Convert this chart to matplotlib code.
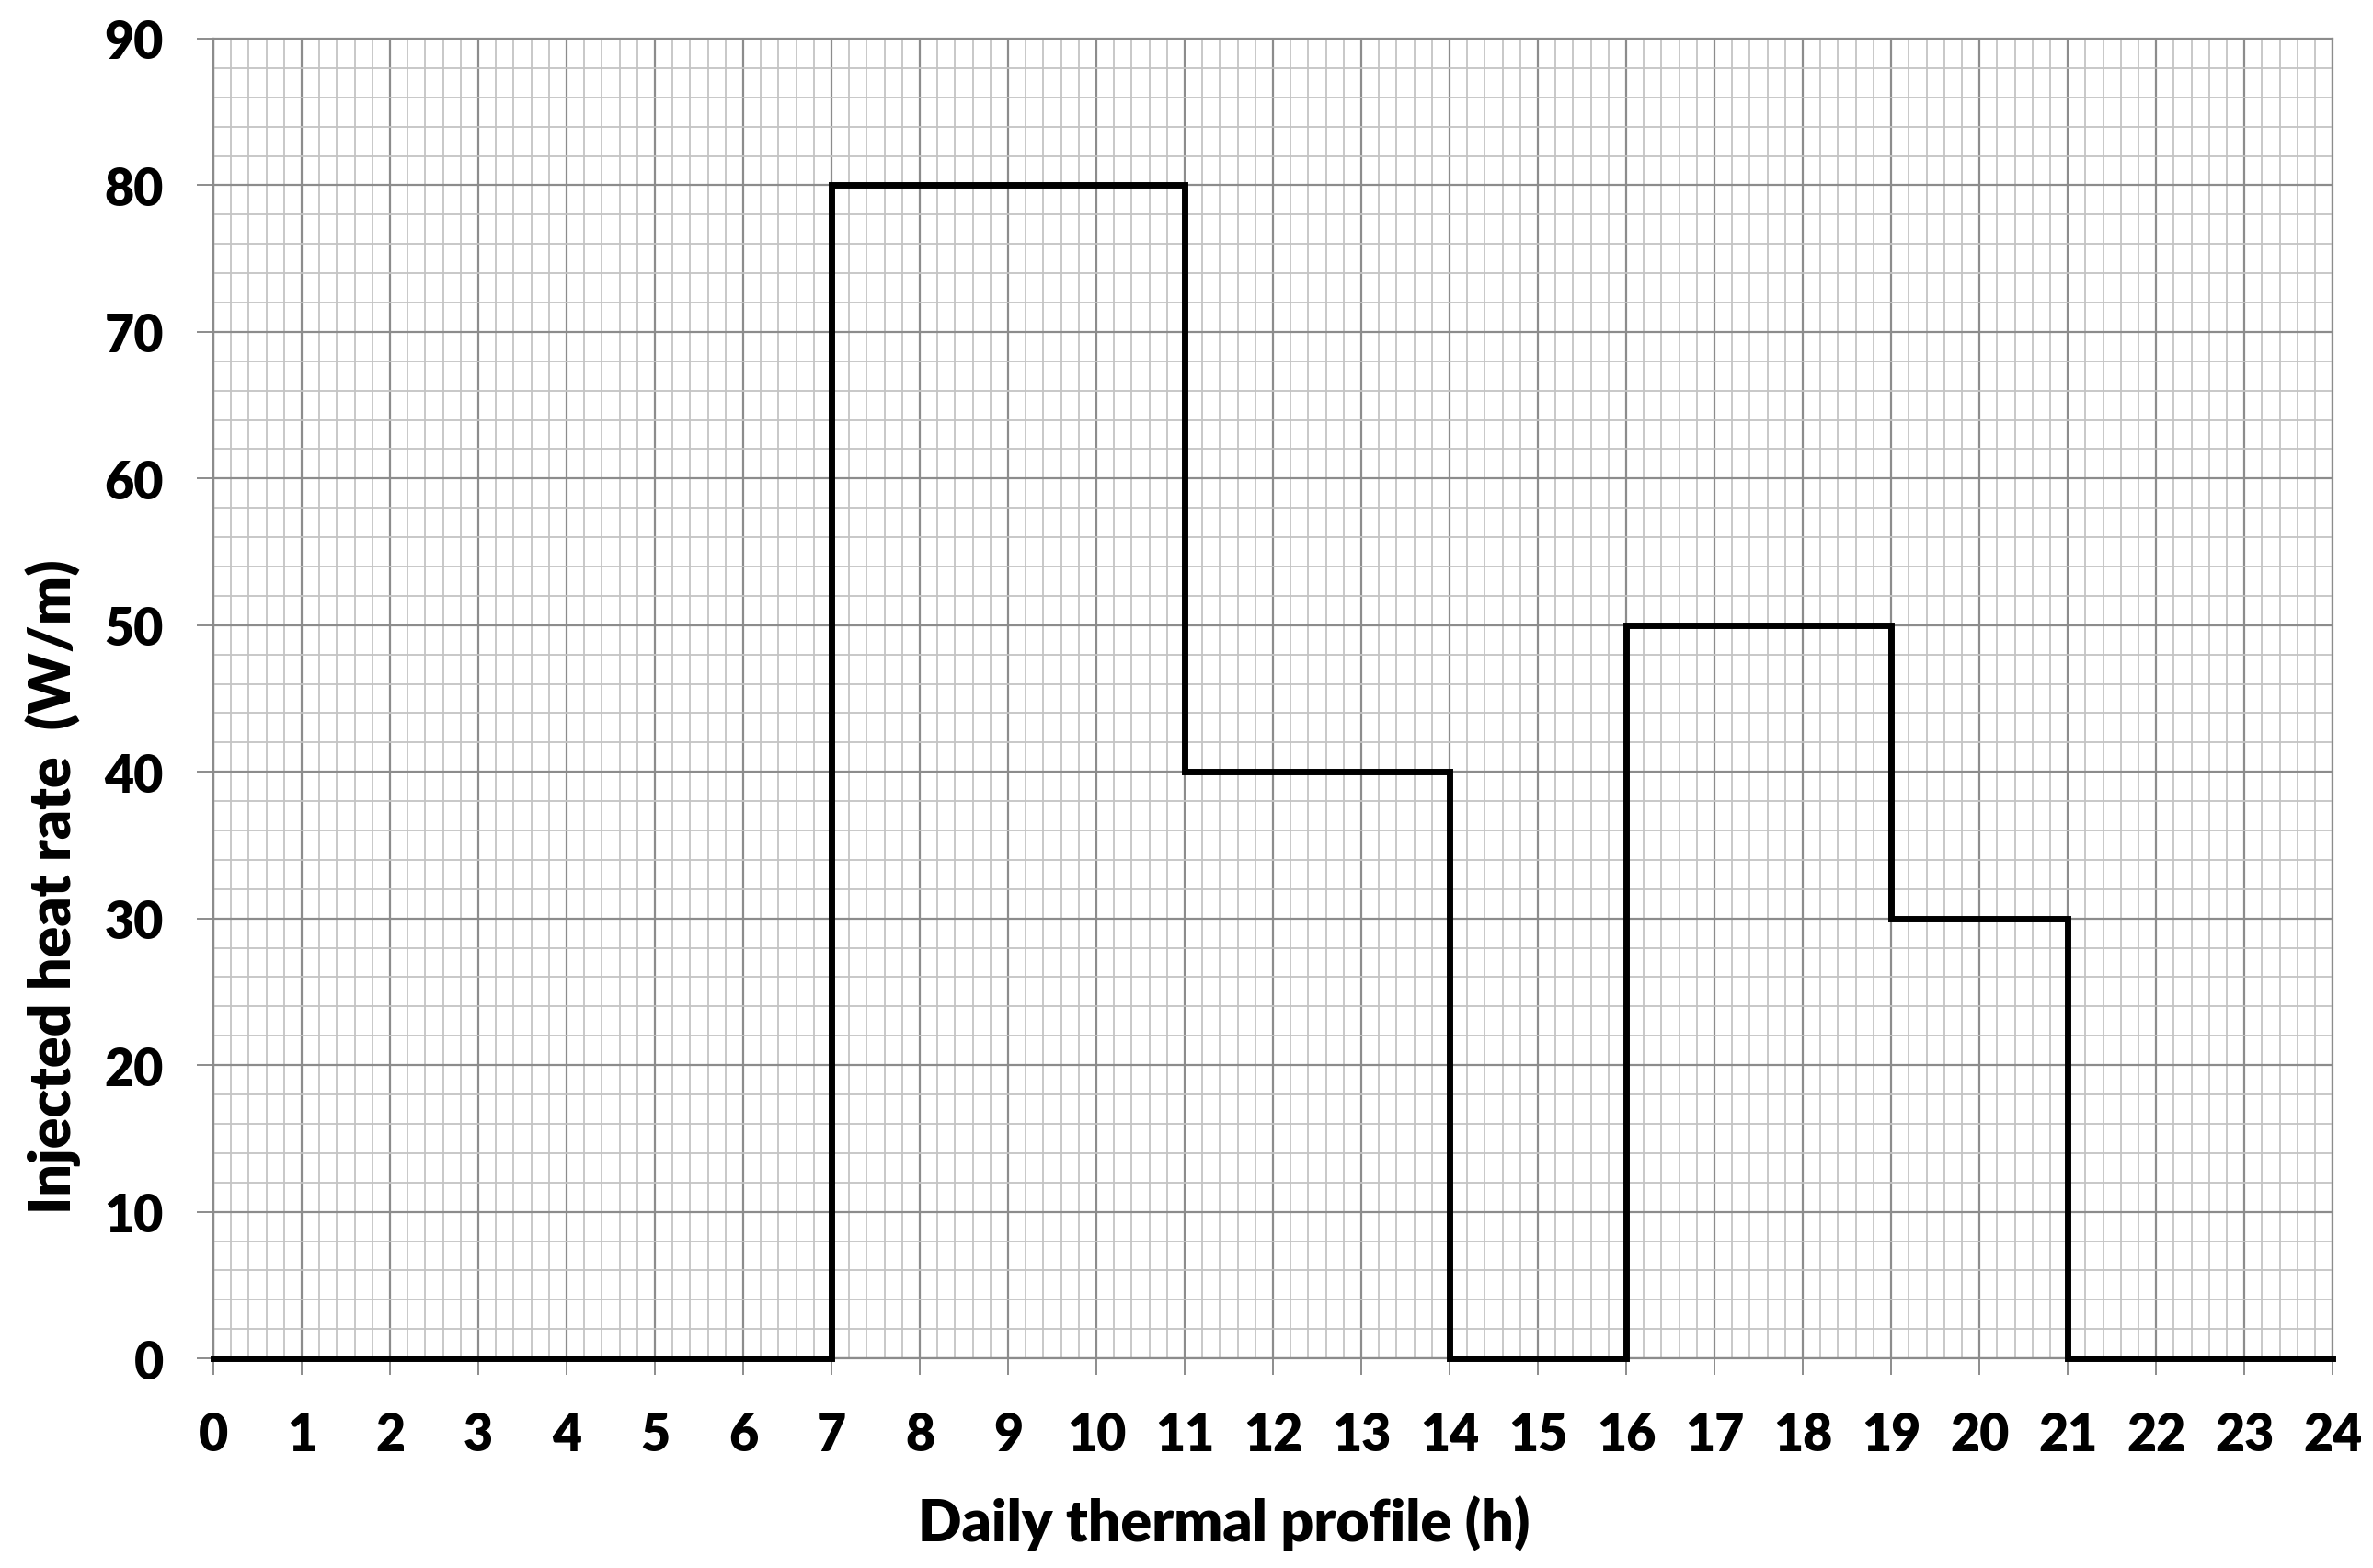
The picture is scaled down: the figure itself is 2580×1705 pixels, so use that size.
import matplotlib
matplotlib.use("Agg")
import matplotlib.pyplot as plt
from matplotlib.ticker import MultipleLocator

# Data
hour_edges = [0, 7, 11, 14, 16, 19, 21, 24]
heat_rate = [0, 80, 40, 0, 50, 30, 0, 0]
x_ticks = list(range(0, 25))
y_ticks = list(range(0, 91, 10))

plt.rcParams['font.family'] = ['Lato', 'DejaVu Sans']

fig = plt.figure(figsize=(25.8, 17.06), dpi=100)
ax = fig.add_axes([0.0899, 0.1336, 0.983 - 0.0899, 0.9748 - 0.1336])

ax.step(hour_edges, heat_rate, where='post', color='black', lw=5,
        solid_joinstyle='miter', clip_on=False, zorder=5)

ax.set_xlim(0, 24)
ax.set_ylim(0, 90)
ax.xaxis.set_major_locator(MultipleLocator(1))
ax.xaxis.set_minor_locator(MultipleLocator(0.2))
ax.yaxis.set_major_locator(MultipleLocator(10))
ax.yaxis.set_minor_locator(MultipleLocator(2))
ax.set_xticks(x_ticks)
ax.set_yticks(y_ticks)

ax.grid(which='minor', color='#c4c4c4', lw=1.3)
ax.grid(which='major', color='#8c8c8c', lw=1.6)
ax.set_axisbelow(True)

for s in ax.spines.values():
    s.set_color('#8c8c8c')
    s.set_linewidth(1.6)

ax.tick_params(which='major', length=13, width=1.4, color='#8c8c8c',
               labelsize=40, pad=26)
ax.tick_params(axis='x', which='major', pad=28)
ax.tick_params(which='minor', length=0)
for lab in ax.get_xticklabels() + ax.get_yticklabels():
    lab.set_fontweight('heavy')

ax.set_xlabel('Daily thermal profile (h)', fontsize=45, fontweight='heavy',
              labelpad=29, x=0.477)
ax.set_ylabel('Injected heat rate  (W/m)', fontsize=45, fontweight='heavy',
              labelpad=18, y=0.358)

fig.savefig('out.png', dpi=100)
